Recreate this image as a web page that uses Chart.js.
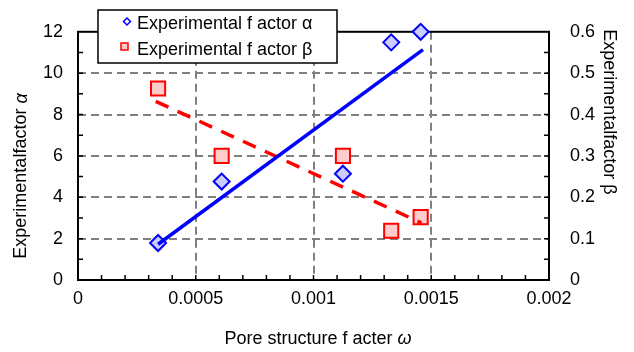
<!DOCTYPE html>
<html>
<head>
<meta charset="utf-8">
<script src="https://cdn.jsdelivr.net/npm/chart.js@4/dist/chart.umd.min.js"></script>
<style>
  body { margin: 0; background: #fff; }
  canvas { display: block; }
</style>
</head>
<body>
<canvas id="grafico" width="634" height="352"></canvas>
<script>
// datos
const omega = [0.00034, 0.00061, 0.001125, 0.00133, 0.001455];
const alpha = [1.79, 4.76, 5.14, 11.49, 12.0];
const beta = [0.463, 0.300, 0.300, 0.119, 0.152];

// rectas de ajuste (extremos leídos)
const alphaFitX = [0.00034, 0.001465];
const alphaFitY = [1.73, 11.14];
const betaFitX = [0.00033, 0.001458];
const betaFitY = [0.432, 0.138];

const seriesNames = ['Experimental f actor α', 'Experimental f actor β'];
const xTicks = [0, 0.0005, 0.001, 0.0015, 0.002];
const xLabels = ['0', '0.0005', '0.001', '0.0015', '0.002'];
const yTicks = [0, 2, 4, 6, 8, 10, 12];
const yLabels = ['0', '2', '4', '6', '8', '10', '12'];
const y1Ticks = [0, 0.1, 0.2, 0.3, 0.4, 0.5, 0.6];
const y1Labels = ['0', '0.1', '0.2', '0.3', '0.4', '0.5', '0.6'];

const FONT = '"Liberation Sans", Arial, sans-serif';
const FS = 18;
Chart.defaults.font.family = FONT;
Chart.defaults.font.size = FS;
Chart.defaults.color = '#000';

const pts = (xs, ys) => xs.map((x, i) => ({ x: x, y: ys[i] }));

const gridColor = (ends) => (c) => ends.includes(c.tick.value) ? 'rgba(0,0,0,0)' : '#808080';

// marco, marcas menores
const marco = {
  id: 'marco',
  beforeDatasetsDraw(chart) {
    const { ctx, chartArea: a, scales } = chart;
    ctx.save();
    ctx.strokeStyle = '#000';
    ctx.lineWidth = 1.5;
    ctx.beginPath();
    for (let i = 1; i < 12; i++) {
      const y = scales.y.getPixelForValue(i);
      ctx.moveTo(a.left, y); ctx.lineTo(a.left + 5, y);
    }
    for (let i = 1; i < 12; i++) {
      const y = scales.y1.getPixelForValue(i * 0.05);
      ctx.moveTo(a.right - 5, y); ctx.lineTo(a.right, y);
    }
    for (let i = 1; i < 20; i++) {
      const x = scales.x.getPixelForValue(i * 0.0001);
      ctx.moveTo(x, a.bottom - 5); ctx.lineTo(x, a.bottom);
    }
    ctx.stroke();
    ctx.lineWidth = 2;
    ctx.strokeRect(a.left, a.top, a.right - a.left, a.bottom - a.top);
    ctx.restore();
  },
  afterDraw(chart) {
    const { ctx } = chart;
    ctx.save();
    ctx.fillStyle = '#000';
    ctx.textBaseline = 'middle';

    // títulos de ejes
    const titulo = (x, y, rot, normal, griega, italica) => {
      ctx.save();
      ctx.translate(x, y);
      ctx.rotate(rot);
      ctx.font = FS + 'px ' + FONT;
      const w1 = ctx.measureText(normal).width;
      ctx.font = (italica ? 'italic ' : '') + FS + 'px ' + FONT;
      const w2 = ctx.measureText(griega).width;
      const x0 = -(w1 + w2) / 2;
      ctx.textAlign = 'left';
      ctx.font = FS + 'px ' + FONT;
      ctx.fillText(normal, x0, 0);
      ctx.font = (italica ? 'italic ' : '') + FS + 'px ' + FONT;
      ctx.fillText(griega, x0 + w1, 0);
      ctx.restore();
    };
    titulo(21.5, 176, -Math.PI / 2, 'Experimentalfactor ', 'α', true);
    titulo(609, 112, Math.PI / 2, 'Experimentalfactor ', 'β', false);
    titulo(318, 339, 0, 'Pore structure f acter ', 'ω', true);

    // leyenda
    ctx.fillStyle = '#fff';
    ctx.fillRect(98, 10, 239, 53);
    ctx.strokeStyle = '#000';
    ctx.lineWidth = 1.5;
    ctx.strokeRect(98, 10, 239, 53);

    ctx.lineWidth = 1.5;
    ctx.strokeStyle = '#0000ff';
    ctx.fillStyle = '#ffffff';
    ctx.beginPath();
    ctx.moveTo(127, 18); ctx.lineTo(130.5, 21.5); ctx.lineTo(127, 25); ctx.lineTo(123.5, 21.5);
    ctx.closePath(); ctx.fill(); ctx.stroke();

    ctx.strokeStyle = '#ff0000';
    ctx.fillStyle = '#ffcccc';
    ctx.fillRect(121, 43, 7, 7);
    ctx.strokeRect(121, 43, 7, 7);

    ctx.fillStyle = '#000';
    ctx.font = FS + 'px ' + FONT;
    ctx.textAlign = 'left';
    ctx.fillText(seriesNames[0], 137, 24);
    ctx.fillText(seriesNames[1], 137, 50);
    ctx.restore();
  }
};

new Chart(document.getElementById('grafico'), {
  type: 'scatter',
  data: {
    datasets: [
      {
        label: 'ajuste α', data: pts(alphaFitX, alphaFitY), yAxisID: 'y',
        showLine: true, borderColor: '#0000ff', borderWidth: 3.5, pointRadius: 0
      },
      {
        label: 'ajuste β', data: pts(betaFitX, betaFitY), yAxisID: 'y1',
        showLine: true, borderColor: '#ff0000', borderWidth: 3.5, borderDash: [14, 10], pointRadius: 0
      },
      {
        label: seriesNames[0], data: pts(omega, alpha), yAxisID: 'y',
        pointStyle: 'rectRot', pointRadius: 8, backgroundColor: '#ccccff',
        borderColor: '#0000ff', borderWidth: 2, clip: false
      },
      {
        label: seriesNames[1], data: pts(omega, beta), yAxisID: 'y1',
        pointStyle: 'rect', pointRadius: 10, backgroundColor: '#ffcccc',
        borderColor: '#ff0000', borderWidth: 2, clip: false
      }
    ]
  },
  options: {
    responsive: false,
    animation: false,
    devicePixelRatio: 1,
    layout: { padding: { top: 23, left: 0, right: 0, bottom: 0 } },
    plugins: { legend: { display: false }, tooltip: { enabled: false } },
    scales: {
      x: {
        type: 'linear', min: 0, max: 0.002,
        afterBuildTicks: s => { s.ticks = xTicks.map(v => ({ value: v })); },
        afterFit: s => { s.height = 72; },
        ticks: { padding: 8, maxRotation: 0, callback: (v, i) => xLabels[i] },
        grid: { color: gridColor([0, 0.002]), lineWidth: 2, drawTicks: false },
        border: { display: false, dash: [8, 5] }
      },
      y: {
        position: 'left', min: 0, max: 12,
        afterBuildTicks: s => { s.ticks = yTicks.map(v => ({ value: v })); },
        afterFit: s => { s.width = 78; },
        ticks: { padding: 15, callback: (v, i) => yLabels[i] },
        grid: { color: gridColor([0, 12]), lineWidth: 2, drawTicks: false },
        border: { display: false, dash: [8, 5] }
      },
      y1: {
        position: 'right', min: 0, max: 0.6,
        afterBuildTicks: s => { s.ticks = y1Ticks.map(v => ({ value: v })); },
        afterFit: s => { s.width = 85; },
        ticks: { padding: 21, callback: (v, i) => y1Labels[i] },
        grid: { display: false, drawTicks: false },
        border: { display: false }
      }
    }
  },
  plugins: [marco]
});
</script>
</body>
</html>
